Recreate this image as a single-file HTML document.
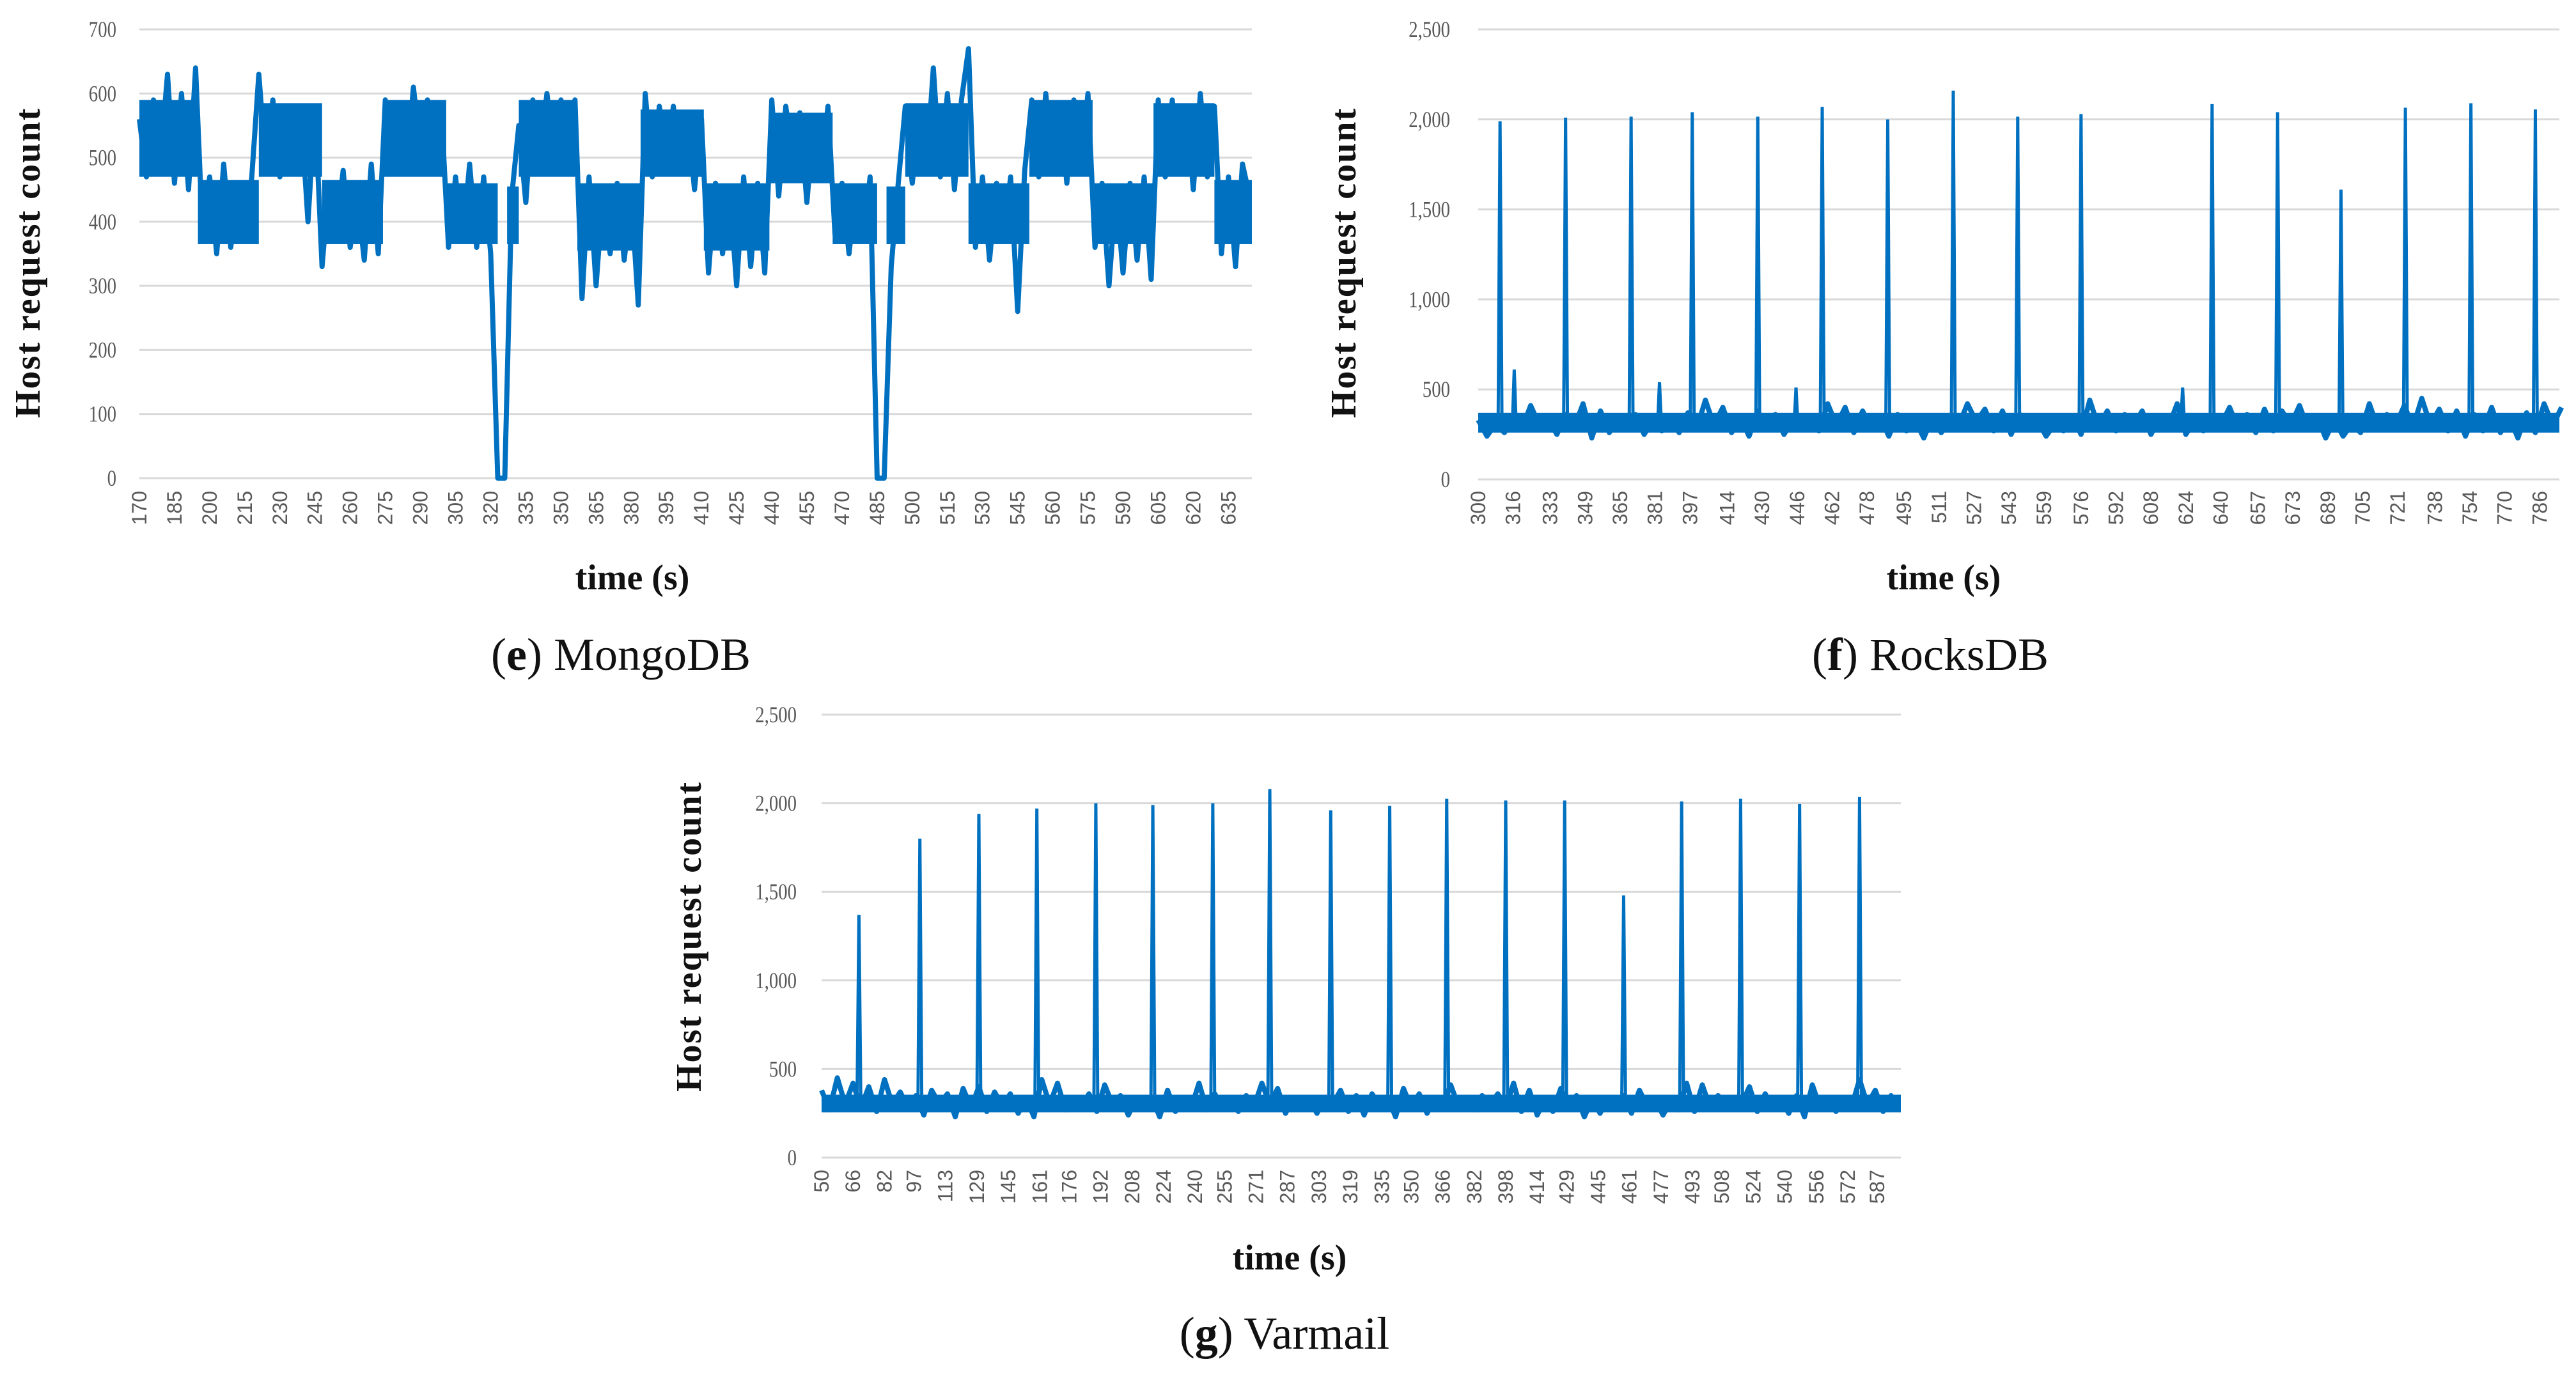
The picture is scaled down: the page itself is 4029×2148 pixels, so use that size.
<!DOCTYPE html>
<html><head><meta charset="utf-8">
<style>
html,body{margin:0;padding:0;background:#fff;}
svg{display:block;}
.tick{font-family:"Liberation Sans",sans-serif;font-size:32px;fill:#595959;}
.ytick{font-family:"Liberation Serif",serif;font-size:36px;fill:#595959;}
.ytitle{font-family:"Liberation Serif",serif;font-size:56px;font-weight:bold;fill:#111;letter-spacing:2px;}
.xtitle{font-family:"Liberation Serif",serif;font-size:56px;font-weight:bold;fill:#111;}
.cap{font-family:"Liberation Serif",serif;font-size:72px;fill:#111;}
</style></head>
<body>
<svg id="fig" width="4029" height="2148" viewBox="0 0 4029 2148" xmlns="http://www.w3.org/2000/svg">
<rect width="4029" height="2148" fill="#fff"/>
<text class="cap" x="971" y="1048" text-anchor="middle">(<tspan font-weight="bold">e</tspan>) MongoDB</text>
<text class="cap" x="3019" y="1048" text-anchor="middle">(<tspan font-weight="bold">f</tspan>) RocksDB</text>
<text class="cap" x="2009" y="2110" text-anchor="middle">(<tspan font-weight="bold">g</tspan>) Varmail</text>
</svg>
<script>
// ---------- MongoDB data (t = 170 + 3*i) ----------
const mongoStart = 170;
const mongoStep = 3;
const mongoValues = [
560,470,590,500,630,460,600,450,640,
380,470,350,490,360,450,370,470,
630,490,590,470,580,500,570,400,580,
330,460,380,480,360,440,340,490,350,
590,500,580,480,610,510,590,490,570,
360,470,370,490,360,470,350,
0,0,
440,
550,430,590,500,600,510,590,500,590,
280,470,300,450,350,460,340,440,270,
600,470,580,500,580,480,570,450,560,
320,460,350,450,300,470,330,460,320,
590,440,580,500,570,430,560,480,580,
380,460,350,450,370,470,
0,0,
330,460,
580,460,560,480,640,470,600,450,590,670,
360,470,340,460,380,470,260,480,
590,470,600,490,580,460,590,480,600,
360,460,300,450,320,460,340,470,310,
590,470,590,480,580,450,600,470,580,
350,470,330,490,440];
const mongoSegStart = [170,195,221,248,274,301,327,332,357,384,411,439,466,489,497,524,550,577,603,629];
const mongoSegEnd   = [195,221,248,274,301,323,332,357,384,411,439,466,485,497,524,550,577,603,629,645];
const mongoSegLow   = [470,365,470,365,470,365,365,470,355,470,355,460,365,365,470,365,470,365,470,365];
const mongoSegHigh  = [590,465,585,465,590,460,455,590,460,575,460,570,460,455,585,460,590,460,585,465];
const mongoYTicks = [0,100,200,300,400,500,600,700];
const mongoXLabels = [170,185,200,215,230,245,260,275,290,305,320,335,350,365,380,395,410,425,440,455,470,485,500,515,530,545,560,575,590,605,620,635];

// ---------- RocksDB data (base t = 300 + 4*i) ----------
const rocksStart = 300;
const rocksStep = 4;
const rocksBase = [
330,240,310,260,350,280,410,300,340,250,
360,290,420,230,380,260,350,300,360,250,
330,270,350,260,370,280,440,300,400,260,
350,240,380,280,360,250,330,290,340,270,
420,300,400,260,380,280,350,240,360,270,
330,230,350,260,330,300,420,320,390,270,
380,250,360,280,330,240,310,270,350,250,
440,290,380,270,360,300,380,250,340,290,
420,250,330,270,350,300,400,280,360,260,
390,270,380,300,410,280,350,230,330,240,
310,260,420,280,360,300,410,290,450,300,
390,270,380,240,360,270,400,260,350,230,
370,260,420,300,400];
const rocksBandLow = [260];
const rocksBandHigh = [370];
const rocksSpikeTimes = [310,316.5,340,370,383,398,428,445.5,457.5,487.5,517.5,547,576,622.5,636,666,695,724.5,754.5,784];
const rocksSpikeValues = [1990,610,2010,2015,540,2040,2015,510,2070,2000,2160,2015,2030,510,2085,2040,1610,2065,2090,2055];
const rocksYTicks = [0,500,1000,1500,2000,2500];
const rocksYLabels = ["0","500","1,000","1,500","2,000","2,500"];
const rocksXLabels = [300,316,333,349,365,381,397,414,430,446,462,478,495,511,527,543,559,576,592,608,624,640,657,673,689,705,721,738,754,770,786];

// ---------- Varmail data (base t = 50 + 4*i) ----------
const varStart = 50;
const varStep = 4;
const varBase = [
380,270,450,300,420,280,400,260,440,300,
370,280,350,240,380,300,360,230,390,280,
400,260,370,290,360,250,340,230,440,300,
420,270,330,280,360,260,410,300,350,240,
330,280,340,230,380,260,330,280,420,270,
360,280,330,260,350,290,420,300,390,250,
340,280,330,250,340,300,380,260,350,240,
360,290,340,230,390,280,360,250,340,290,
410,290,340,270,350,300,360,280,420,260,
380,240,330,260,390,280,350,230,330,250,
340,280,350,250,380,290,330,240,320,270,
420,260,410,280,350,270,330,300,400,260,
360,280,330,250,350,230,410,280,330,260,
340,290,440,300,380,260,350,280];
const varBandLow = [255];
const varBandHigh = [355];
const varSpikeTimes = [69,100,130,159.5,189.5,218.5,249,278,309,339,368,398,428,458,487.5,517.5,547.5,578];
const varSpikeValues = [1370,1800,1940,1970,2000,1990,2000,2080,1960,1985,2025,2015,2015,1480,2010,2025,1995,2035];
const varYTicks = [0,500,1000,1500,2000,2500];
const varYLabels = ["0","500","1,000","1,500","2,000","2,500"];
const varXLabels = [50,66,82,97,113,129,145,161,176,192,208,224,240,255,271,287,303,319,335,350,366,382,398,414,429,445,461,477,493,508,524,540,556,572,587];

const NS = "http://www.w3.org/2000/svg";
const svg = document.getElementById("fig");
const BLUE = "#0070C0";

function mk(tag, attrs, parent) {
  const e = document.createElementNS(NS, tag);
  for (const k in attrs) e.setAttribute(k, attrs[k]);
  (parent || svg).appendChild(e);
  return e;
}
function linScale(d0, d1, r0, r1) { return v => r0 + (v - d0) * (r1 - r0) / (d1 - d0); }

function drawChart(cfg) {
  const g = mk("g", {});
  
  
  const x = linScale(cfg.xmin, cfg.xmax, cfg.left, cfg.right);
  const y = linScale(0, cfg.ymax, cfg.bottom, cfg.top);
  cfg.yTicks.forEach((v, i) => {
    const ln = mk("line", {x1: cfg.left, x2: cfg.right, y1: y(v), y2: y(v), stroke: "#d9d9d9", "stroke-width": 3}, g);
    
    
    const t = mk("text", {x: cfg.ylabRight, y: y(v) + 12, "text-anchor": "end", class: "ytick", transform: "translate(" + cfg.ylabRight + " 0) scale(0.8 1) translate(" + (-cfg.ylabRight) + " 0)"}, g);
    t.textContent = cfg.yLabels[i];
    
    
  });
  cfg.xLabels.forEach(v => {
    const px = x(v);
    const t = mk("text", {x: 0, y: 0, "text-anchor": "end", class: "tick", transform: "translate(" + (px + 11) + " " + cfg.xlabTop + ") rotate(-90)"}, g);
    t.textContent = String(v);
    
    
  });
  cfg.segStart.forEach((s, i) => {
    const r = mk("rect", {x: x(s), y: y(cfg.segHigh[i]), width: x(cfg.segEnd[i]) - x(s), height: y(cfg.segLow[i]) - y(cfg.segHigh[i]), fill: BLUE}, g);
    
    
  });
  const pts = cfg.values.map((v, i) => x(cfg.start + cfg.step * i).toFixed(1) + "," + y(v).toFixed(1)).join(" ");
  const pl = mk("polyline", {points: pts, fill: "none", stroke: BLUE, "stroke-width": cfg.sw, "stroke-linejoin": "round"}, g);
  
  
  if (cfg.spikeTimes) {
    cfg.spikeTimes.forEach((t, i) => {
      const px = x(t);
      const sp = mk("polyline", {points: (px - 3) + "," + y(300) + " " + px + "," + y(cfg.spikeValues[i]) + " " + (px + 3) + "," + y(300), fill: "none", stroke: BLUE, "stroke-width": 5}, g);
      
      
    });
  }
  const yt = mk("text", {x: 0, y: 0, "text-anchor": "middle", class: "ytitle", transform: "translate(" + cfg.ytX + " " + cfg.ytY + ") rotate(-90)"}, g);
  yt.textContent = "Host request count";
  
  
  const xt = mk("text", {x: cfg.xtX, y: cfg.xtY, "text-anchor": "middle", class: "xtitle"}, g);
  xt.textContent = "time (s)";
  
  
}

drawChart({name: "chart-mongodb", xmin: 170, xmax: 645, left: 218, right: 1958, top: 46, bottom: 748, ymax: 700,
  yTicks: mongoYTicks, yLabels: mongoYTicks.map(String), xLabels: mongoXLabels,
  start: mongoStart, step: mongoStep, values: mongoValues, sw: 8,
  segStart: mongoSegStart, segEnd: mongoSegEnd, segLow: mongoSegLow, segHigh: mongoSegHigh,
  ylabRight: 182, xlabTop: 768, ytX: 62, ytY: 411, xtX: 989, xtY: 922});

drawChart({name: "chart-rocksdb", xmin: 300, xmax: 795, left: 2312, right: 4003, top: 46, bottom: 750, ymax: 2500,
  yTicks: rocksYTicks, yLabels: rocksYLabels, xLabels: rocksXLabels,
  start: rocksStart, step: rocksStep, values: rocksBase, sw: 8,
  segStart: [300], segEnd: [795], segLow: rocksBandLow, segHigh: rocksBandHigh,
  spikeTimes: rocksSpikeTimes, spikeValues: rocksSpikeValues,
  ylabRight: 2268, xlabTop: 768, ytX: 2120, ytY: 411, xtX: 3040, xtY: 922});

drawChart({name: "chart-varmail", xmin: 50, xmax: 599, left: 1285, right: 2973, top: 1118, bottom: 1811, ymax: 2500,
  yTicks: varYTicks, yLabels: varYLabels, xLabels: varXLabels,
  start: varStart, step: varStep, values: varBase, sw: 8,
  segStart: [50], segEnd: [599], segLow: varBandLow, segHigh: varBandHigh,
  spikeTimes: varSpikeTimes, spikeValues: varSpikeValues,
  ylabRight: 1246, xlabTop: 1830, ytX: 1096, ytY: 1465, xtX: 2017, xtY: 1986});
</script>
</body></html>
